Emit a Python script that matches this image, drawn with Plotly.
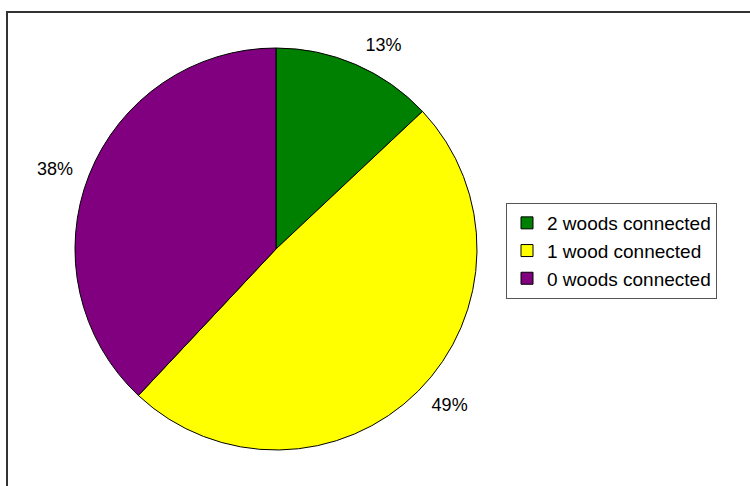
import plotly.graph_objects as go

labels = ["2 woods connected", "1 wood connected", "0 woods connected"]
values = [13, 49, 38]
colors = ["#008000", "#FFFF00", "#800080"]

W, H = 750, 486
FONT = "Liberation Sans, Arial"

# main pie (no text)
cx, cy, r = 276, 249, 201
# label carrier pie (slightly larger, transparent) so labels sit a bit further out
r2 = 213

fig = go.Figure()
fig.add_trace(go.Pie(
    labels=labels,
    values=values,
    sort=False,
    direction="clockwise",
    rotation=0,
    marker=dict(colors=colors, line=dict(color="black", width=1)),
    textinfo="none",
    domain=dict(x=[(cx - r) / W, (cx + r) / W], y=[1 - (cy + r) / H, 1 - (cy - r) / H]),
    showlegend=True,
    hoverinfo="label+percent",
))
fig.add_trace(go.Pie(
    labels=labels,
    values=values,
    sort=False,
    direction="clockwise",
    rotation=0,
    marker=dict(colors=["rgba(0,0,0,0)"] * 3, line=dict(width=0)),
    textinfo="percent",
    texttemplate="%{percent:.0%}",
    textposition="outside",
    outsidetextfont=dict(family=FONT, size=18, color="black"),
    domain=dict(x=[(cx - r2) / W, (cx + r2) / W], y=[1 - (cy + r2) / H, 1 - (cy - r2) / H]),
    showlegend=False,
    hoverinfo="skip",
))

fig.update_layout(
    width=W, height=H,
    margin=dict(l=0, r=0, t=0, b=0),
    paper_bgcolor="white",
    plot_bgcolor="white",
    font=dict(family=FONT, size=18, color="black"),
    legend=dict(
        x=506 / W, y=1 - 251 / H, xanchor="left", yanchor="middle",
        bordercolor="#555", borderwidth=1, bgcolor="white",
        font=dict(family=FONT, size=19, color="black"),
        itemwidth=30, tracegroupgap=0,
    ),
    shapes=[dict(
        type="rect", xref="paper", yref="paper",
        x0=7 / W, x1=1.05, y0=-0.05, y1=1 - 12 / H,
        line=dict(color="#333", width=2), fillcolor="rgba(0,0,0,0)",
        layer="above",
    )],
)

fig.write_html("out.html")
